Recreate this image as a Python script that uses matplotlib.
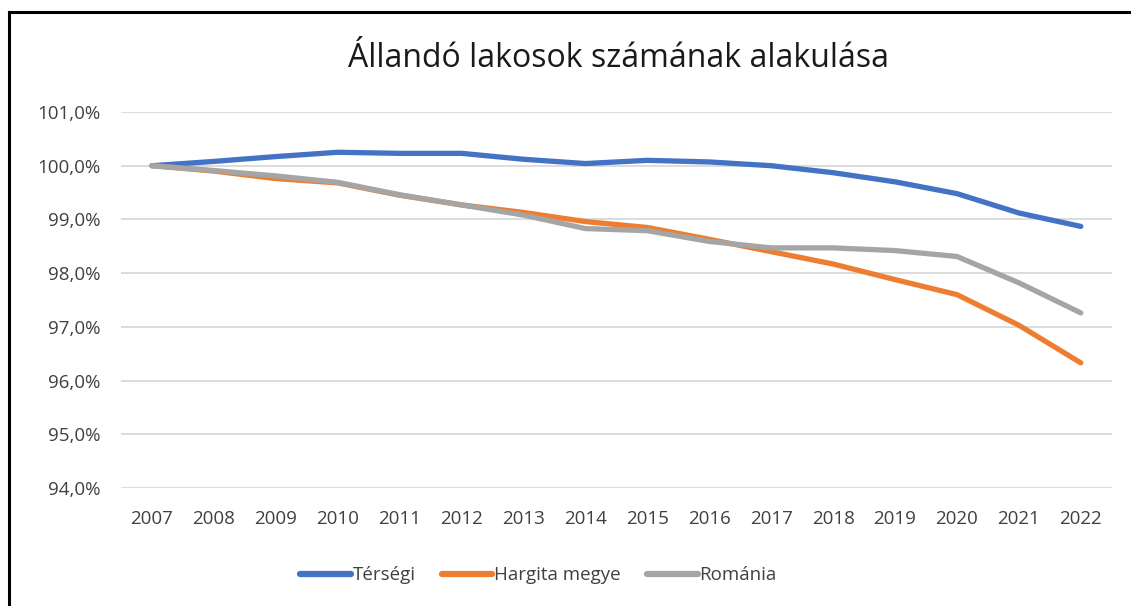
import numpy as np
import matplotlib
matplotlib.use('Agg')
from matplotlib import pyplot as plt
from matplotlib.lines import Line2D
from matplotlib.ticker import FuncFormatter

years = ['2007', '2008', '2009', '2010', '2011', '2012', '2013', '2014',
         '2015', '2016', '2017', '2018', '2019', '2020', '2021', '2022']

tersegi = [100.0, 100.08, 100.17, 100.25, 100.23, 100.23, 100.12, 100.04,
           100.10, 100.07, 100.0, 99.87, 99.70, 99.48, 99.12, 98.87]
hargita = [100.0, 99.90, 99.76, 99.68, 99.45, 99.27, 99.13, 98.96,
           98.85, 98.63, 98.40, 98.17, 97.88, 97.60, 97.03, 96.33]
romania = [100.0, 99.91, 99.81, 99.69, 99.46, 99.27, 99.08, 98.83,
           98.79, 98.59, 98.47, 98.47, 98.42, 98.31, 97.82, 97.26]

series_names = ['Térségi', 'Hargita megye', 'Románia']
colors = ['#4472C4', '#ED7D31', '#A5A5A5']

plt.rcParams['font.family'] = ['Open Sans', 'DejaVu Sans']
txt = '#404040'

fig = plt.figure(figsize=(11.31, 6.06), dpi=100)
ax = fig.add_axes([0.107, 0.1947, 0.876, 0.6205])

x = np.arange(len(years))
for vals, c, name in zip([tersegi, hargita, romania], colors, series_names):
    ax.plot(x, vals, color=c, linewidth=3.8, label=name,
            solid_capstyle='round', solid_joinstyle='round')

ax.set_xlim(-0.5, len(years) - 0.5)
ax.set_ylim(94, 101)
ax.set_yticks(np.arange(94, 101.5, 1))
ax.yaxis.set_major_formatter(FuncFormatter(lambda v, p: '{:.1f}%'.format(v).replace('.', ',')))
ax.set_xticks(x)
ax.set_xticklabels(years)
ax.grid(axis='y', color='#D9D9D9', linewidth=1.3)
ax.set_axisbelow(True)
for s in ax.spines.values():
    s.set_visible(False)
ax.tick_params(length=0, labelsize=13.5, labelcolor=txt)
ax.tick_params(axis='y', pad=15)
ax.tick_params(axis='x', pad=16)

fig.text(0.547, 0.904, 'Állandó lakosok számának alakulása', ha='center', va='center',
         fontsize=23, color='#1a1a1a')

handles = [Line2D([0], [0], color=c, linewidth=4.5, solid_capstyle='round') for c in colors]
fig.legend(handles, series_names, loc='center', bbox_to_anchor=(0.476, 0.051), ncol=3,
           frameon=False, fontsize=13.5, handlelength=2.7, handletextpad=0.1,
           columnspacing=1.4, labelcolor=txt)

# outer chart border (left and top)
fig.add_artist(Line2D([0.008, 0.008], [0.0, 0.98], color='black', linewidth=2.2,
                      transform=fig.transFigure))
fig.add_artist(Line2D([0.008, 1.0], [0.98, 0.98], color='black', linewidth=2.2,
                      transform=fig.transFigure))

fig.savefig('out.png', dpi=100)
